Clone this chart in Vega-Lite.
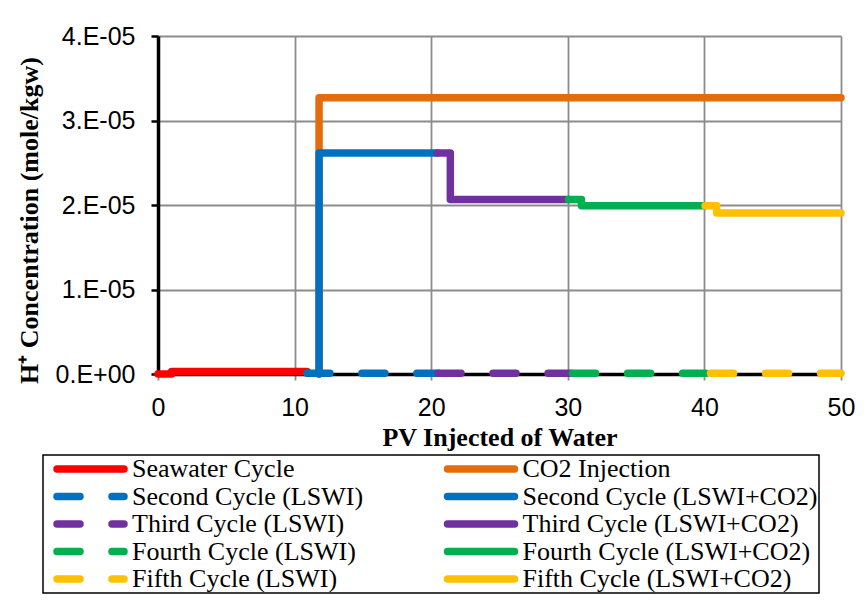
{
  "$schema": "https://vega.github.io/schema/vega-lite/v6.json",
  "width": 683,
  "height": 338,
  "autosize": {"type": "none"},
  "padding": {"left": 158, "top": 36, "right": 23, "bottom": 228},
  "background": "white",
  "config": {
    "view": {"stroke": null},
    "legend": {
      "orient": "none", "legendX": -115, "legendY": 419,
      "direction": "horizontal",
      "columns": 2, "columnPadding": 70.5, "rowPadding": 1.5,
      "padding": 1, "symbolOffset": 9, "clipHeight": 26,
      "strokeColor": "black", "strokeWidth": 1.5,
      "symbolType": "stroke", "symbolSize": 4489, "symbolStrokeWidth": 7.5,
      "labelFont": "Liberation Serif", "labelFontSize": 26, "labelColor": "black", "labelOffset": 4, "labelLimit": 400
    }
  },
  "data": {
    "values": [
      {"series": "Seawater Cycle", "x": 0, "y": 0, "ord": 1},
      {"series": "Seawater Cycle", "x": 1, "y": 0, "ord": 2},
      {"series": "Seawater Cycle", "x": 1, "y": 3e-7, "ord": 3},
      {"series": "Seawater Cycle", "x": 10.9, "y": 3e-7, "ord": 4},
      {"series": "CO2 Injection", "x": 11.79, "y": 0, "ord": 1},
      {"series": "CO2 Injection", "x": 11.79, "y": 3.27e-5, "ord": 2},
      {"series": "CO2 Injection", "x": 50, "y": 3.27e-5, "ord": 3},
      {"series": "Second Cycle (LSWI)", "x": 10.9, "y": 1e-7, "ord": 1},
      {"series": "Second Cycle (LSWI)", "x": 20.5, "y": 1e-7, "ord": 2},
      {"series": "Third Cycle (LSWI)", "x": 20.5, "y": 1e-7, "ord": 1},
      {"series": "Third Cycle (LSWI)", "x": 30.35, "y": 1e-7, "ord": 2},
      {"series": "Fourth Cycle (LSWI)", "x": 30.35, "y": 1e-7, "ord": 1},
      {"series": "Fourth Cycle (LSWI)", "x": 40.45, "y": 1e-7, "ord": 2},
      {"series": "Fifth Cycle (LSWI)", "x": 40.45, "y": 1e-7, "ord": 1},
      {"series": "Fifth Cycle (LSWI)", "x": 50, "y": 1e-7, "ord": 2},
      {"series": "Second Cycle (LSWI+CO2)", "x": 11.79, "y": 0, "ord": 1},
      {"series": "Second Cycle (LSWI+CO2)", "x": 11.79, "y": 2.615e-5, "ord": 2},
      {"series": "Second Cycle (LSWI+CO2)", "x": 20.45, "y": 2.615e-5, "ord": 3},
      {"series": "Third Cycle (LSWI+CO2)", "x": 20.45, "y": 2.615e-5, "ord": 1},
      {"series": "Third Cycle (LSWI+CO2)", "x": 21.4, "y": 2.615e-5, "ord": 2},
      {"series": "Third Cycle (LSWI+CO2)", "x": 21.4, "y": 2.065e-5, "ord": 3},
      {"series": "Third Cycle (LSWI+CO2)", "x": 30.05, "y": 2.065e-5, "ord": 4},
      {"series": "Fourth Cycle (LSWI+CO2)", "x": 30.05, "y": 2.065e-5, "ord": 1},
      {"series": "Fourth Cycle (LSWI+CO2)", "x": 31.0, "y": 2.065e-5, "ord": 2},
      {"series": "Fourth Cycle (LSWI+CO2)", "x": 31.0, "y": 1.99e-5, "ord": 3},
      {"series": "Fourth Cycle (LSWI+CO2)", "x": 40.05, "y": 1.99e-5, "ord": 4},
      {"series": "Fifth Cycle (LSWI+CO2)", "x": 40.05, "y": 1.99e-5, "ord": 1},
      {"series": "Fifth Cycle (LSWI+CO2)", "x": 40.9, "y": 1.99e-5, "ord": 2},
      {"series": "Fifth Cycle (LSWI+CO2)", "x": 40.9, "y": 1.905e-5, "ord": 3},
      {"series": "Fifth Cycle (LSWI+CO2)", "x": 50, "y": 1.905e-5, "ord": 4}
    ]
  },
  "mark": {"type": "line", "strokeWidth": 7.5, "strokeCap": "round", "strokeJoin": "round"},
  "encoding": {
    "x": {
      "field": "x", "type": "quantitative",
      "scale": {"domain": [0, 50], "nice": false, "zero": false},
      "axis": {
        "title": "PV Injected of Water",
        "values": [0, 10, 20, 30, 40, 50],
        "domainColor": "black", "domainWidth": 3.5,
        "grid": true, "gridColor": "#8c8c8c", "gridWidth": 1.8,
        "ticks": true, "tickColor": "#8c8c8c", "tickSize": 6, "tickWidth": 1.8,
        "labelFont": "Liberation Sans", "labelFontSize": 25, "labelColor": "black",
        "labelPadding": 15, "labelFlush": false,
        "titleFont": "Liberation Serif", "titleFontSize": 26, "titleFontWeight": "bold", "titleColor": "black",
        "titleY": 71, "titleBaseline": "alphabetic"
      }
    },
    "y": {
      "field": "y", "type": "quantitative",
      "scale": {"domain": [0, 0.00004], "nice": false},
      "axis": {
        "title": "H⁺ Concentration (mole/kgw)",
        "values": [0, 0.00001, 0.00002, 0.00003, 0.00004],
        "labelExpr": "datum.value == 0 ? '0.E+00' : round(datum.value * 100000) + '.E-05'",
        "domainColor": "black", "domainWidth": 3.5,
        "grid": true, "gridColor": "#8c8c8c", "gridWidth": 1.8,
        "ticks": true, "tickColor": "black", "tickSize": 7, "tickWidth": 2.5,
        "labelFont": "Liberation Sans", "labelFontSize": 25, "labelColor": "black",
        "labelPadding": 16, "labelFlush": false,
        "titleFont": "Liberation Serif", "titleFontSize": 26, "titleFontWeight": "bold", "titleColor": "black",
        "titleX": -120.5, "titleY": 184, "titleBaseline": "alphabetic", "titleAlign": "center", "titleAngle": -90
      }
    },
    "color": {
      "field": "series", "type": "nominal",
      "scale": {
        "domain": ["Seawater Cycle", "CO2 Injection", "Second Cycle (LSWI)", "Second Cycle (LSWI+CO2)", "Third Cycle (LSWI)", "Third Cycle (LSWI+CO2)", "Fourth Cycle (LSWI)", "Fourth Cycle (LSWI+CO2)", "Fifth Cycle (LSWI)", "Fifth Cycle (LSWI+CO2)"],
        "range": ["#FF0000", "#E46C0A", "#0070C0", "#0070C0", "#7030A0", "#7030A0", "#00B050", "#00B050", "#FFC000", "#FFC000"]
      },
      "legend": {"title": null, "encode": {"symbols": {"update": {"strokeCap": {"value": "round"}}}}}
    },
    "strokeDash": {
      "field": "series", "type": "nominal",
      "scale": {
        "domain": ["Seawater Cycle", "CO2 Injection", "Second Cycle (LSWI)", "Second Cycle (LSWI+CO2)", "Third Cycle (LSWI)", "Third Cycle (LSWI+CO2)", "Fourth Cycle (LSWI)", "Fourth Cycle (LSWI+CO2)", "Fifth Cycle (LSWI)", "Fifth Cycle (LSWI+CO2)"],
        "range": [[1, 0], [1, 0], [23, 32], [1, 0], [23, 32], [1, 0], [23, 32], [1, 0], [23, 32], [1, 0]]
      },
      "legend": {"title": null, "encode": {"symbols": {"update": {"strokeCap": {"value": "round"}}}}}
    },
    "order": {"field": "ord", "type": "quantitative"}
  }
}
